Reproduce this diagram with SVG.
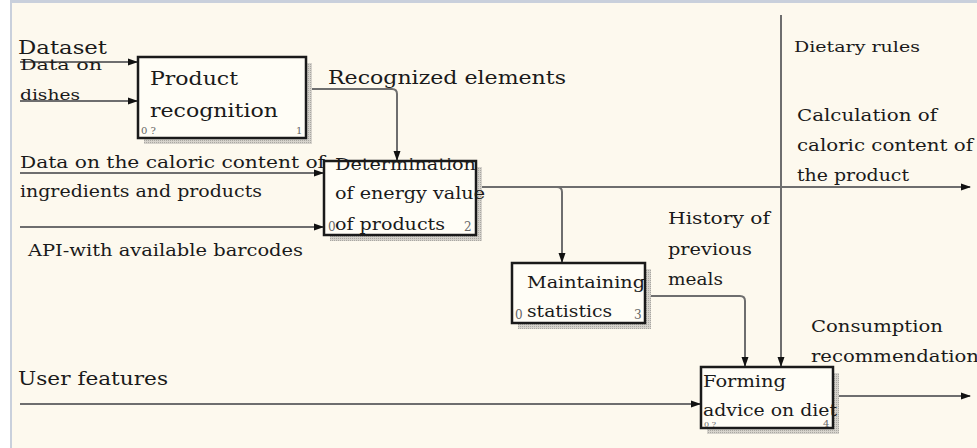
<svg xmlns="http://www.w3.org/2000/svg" width="977" height="448" viewBox="0 0 977 448">
<defs>
<marker id="arr" markerWidth="10" markerHeight="8" refX="9" refY="4" orient="auto" markerUnits="userSpaceOnUse">
<path d="M0,0.5 L10,4 L0,7.5 Z" fill="#111"/>
</marker>
<pattern id="dots" width="2" height="2" patternUnits="userSpaceOnUse">
<rect width="2" height="2" fill="#d6d3cc"/>
<rect width="1" height="1" fill="#a9a7a2"/>
</pattern>
</defs>
<style>
text{font-family:'DejaVu Serif','Liberation Serif',serif;fill:#1a1a1a;font-size:16px}
.big{font-size:19px}
.box{fill:#fffdf6;stroke:#1a1a1a;stroke-width:2.5}
.sh{fill:url(#dots)}
.num{font-size:10px;fill:#666}
.c{fill:none;stroke:#6e6e6e;stroke-width:2}
</style>
<rect x="0" y="0" width="977" height="448" fill="#fdf9ee"/>
<rect x="0" y="0" width="977" height="3" fill="#c9d0dc"/>
<rect x="0" y="0" width="10" height="448" fill="#ffffff"/>
<rect x="10" y="0" width="2" height="448" fill="#c9d0dc"/>

<g id="connectors">
<path class="c" d="M20,62 H137" marker-end="url(#arr)"/>
<path class="c" d="M20,101 H137" marker-end="url(#arr)"/>
<path class="c" d="M306,89 H392 Q397,89 397,94 V160" marker-end="url(#arr)"/>
<path class="c" d="M20,173 H323" marker-end="url(#arr)"/>
<path class="c" d="M20,227 H323" marker-end="url(#arr)"/>
<path class="c" d="M476,187 H970" marker-end="url(#arr)"/>
<path class="c" d="M557,187 Q562,187 562,192 V262" marker-end="url(#arr)"/>
<path class="c" d="M645,296 H740 Q745,296 745,301 V366" marker-end="url(#arr)"/>
<path class="c" d="M781,15 V366" marker-end="url(#arr)"/>
<path class="c" d="M20,404 H700" marker-end="url(#arr)"/>
<path class="c" d="M833,396 H970" marker-end="url(#arr)"/>
</g>

<g id="n1">
<rect class="sh" x="144" y="63" width="168" height="81"/>
<rect class="box" x="138" y="57" width="168" height="81"/>
<text class="big" x="150" y="85" textLength="88" lengthAdjust="spacingAndGlyphs">Product</text>
<text class="big" x="150" y="117" textLength="128" lengthAdjust="spacingAndGlyphs">recognition</text>
<text class="num" x="141" y="134">0 ?</text>
<text class="num" x="296" y="134">1</text>
</g>

<g id="n2">
<rect class="sh" x="330" y="167" width="152" height="74"/>
<rect class="box" x="324" y="161" width="152" height="74"/>
<text x="335" y="170" textLength="141" lengthAdjust="spacingAndGlyphs">Determination</text>
<text x="335" y="199" textLength="150" lengthAdjust="spacingAndGlyphs">of energy value</text>
<text x="335" y="230" textLength="110" lengthAdjust="spacingAndGlyphs">of products</text>
<text class="num" x="328" y="231" style="font-size:12px">0</text>
<text class="num" x="464" y="231" style="font-size:12px">2</text>
</g>

<g id="n3">
<rect class="sh" x="518" y="269" width="133" height="60"/>
<rect class="box" x="512" y="263" width="133" height="60"/>
<text x="527" y="288" textLength="118" lengthAdjust="spacingAndGlyphs">Maintaining</text>
<text x="527" y="317" textLength="85" lengthAdjust="spacingAndGlyphs">statistics</text>
<text class="num" x="515" y="319" style="font-size:12px">0</text>
<text class="num" x="634" y="319" style="font-size:12px">3</text>
</g>

<g id="n4">
<rect class="sh" x="707" y="373" width="132" height="61"/>
<rect class="box" x="701" y="367" width="132" height="61"/>
<text x="703" y="387" textLength="83" lengthAdjust="spacingAndGlyphs">Forming</text>
<text x="703" y="416" textLength="134" lengthAdjust="spacingAndGlyphs">advice on diet</text>
<text class="num" x="704" y="427" style="font-size:8px">0 ?</text>
<text class="num" x="823" y="427">4</text>
</g>

<g id="labels">
<text class="big" x="18" y="54" textLength="89" lengthAdjust="spacingAndGlyphs">Dataset</text>
<text x="20" y="70" style="font-size:14px" textLength="82" lengthAdjust="spacingAndGlyphs">Data on</text>
<text x="20" y="100" style="font-size:14px" textLength="60" lengthAdjust="spacingAndGlyphs">dishes</text>
<text class="big" x="328" y="84" textLength="238" lengthAdjust="spacingAndGlyphs">Recognized elements</text>
<text x="20" y="168" textLength="305" lengthAdjust="spacingAndGlyphs">Data on the caloric content of</text>
<text x="20" y="197" textLength="242" lengthAdjust="spacingAndGlyphs">ingredients and products</text>
<text x="28" y="256" textLength="275" lengthAdjust="spacingAndGlyphs">API-with available barcodes</text>
<text x="668" y="224" textLength="102" lengthAdjust="spacingAndGlyphs">History of</text>
<text x="668" y="255" textLength="84" lengthAdjust="spacingAndGlyphs">previous</text>
<text x="668" y="285" textLength="55" lengthAdjust="spacingAndGlyphs">meals</text>
<text x="794" y="52" style="font-size:15px" textLength="126" lengthAdjust="spacingAndGlyphs">Dietary rules</text>
<text x="797" y="121" textLength="140" lengthAdjust="spacingAndGlyphs">Calculation of</text>
<text x="797" y="151" textLength="176" lengthAdjust="spacingAndGlyphs">caloric content of</text>
<text x="797" y="181" textLength="112" lengthAdjust="spacingAndGlyphs">the product</text>
<text x="811" y="332" textLength="132" lengthAdjust="spacingAndGlyphs">Consumption</text>
<text x="811" y="362" textLength="168" lengthAdjust="spacingAndGlyphs">recommendation</text>
<text class="big" x="18" y="385" textLength="150" lengthAdjust="spacingAndGlyphs">User features</text>
</g>
</svg>
